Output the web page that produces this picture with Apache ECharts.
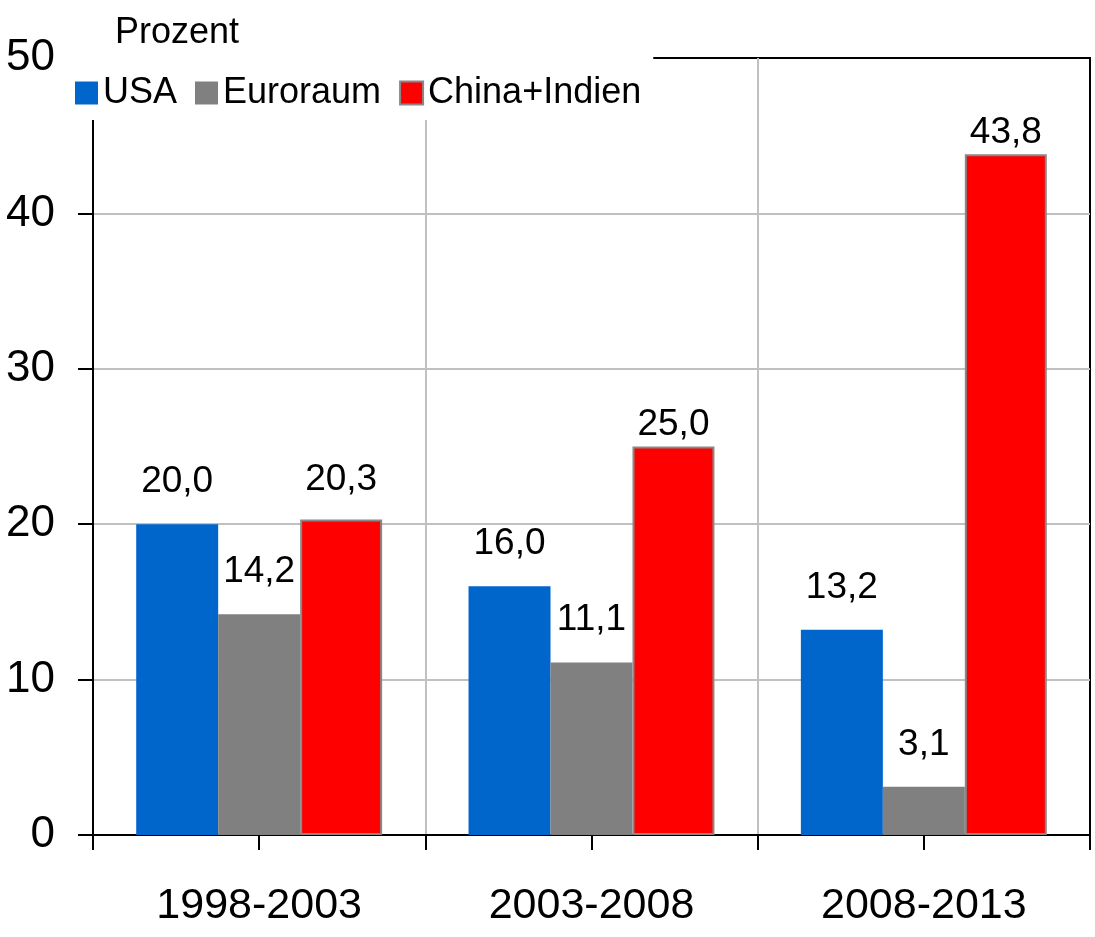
<!DOCTYPE html>
<html>
<head>
<meta charset="utf-8">
<script src="https://cdn.jsdelivr.net/npm/echarts@6/dist/echarts.min.js"></script>
<style>
  html, body { margin: 0; padding: 0; background: #fff; }
  #chart { width: 1095px; height: 937px; }
</style>
</head>
<body>
<div id="chart"></div>
<script>
// Zeiträume und Wachstumsraten (Prozent)
const periods = ['1998-2003', '2003-2008', '2008-2013'];
const usa = [20.0, 16.0, 13.2];
const euroraum = [14.2, 11.1, 3.1];
const chinaIndien = [20.3, 25.0, 43.8];
const yTicks = [0, 10, 20, 30, 40, 50];

const FONT = '"Liberation Sans", Arial, sans-serif';
const fmt = v => v.toFixed(1).replace('.', ',');

const chart = echarts.init(document.getElementById('chart'), null, { renderer: 'canvas' });

function labelStyle(distance) {
  return {
    show: true,
    position: 'top',
    distance: distance,
    color: '#000',
    fontFamily: FONT,
    fontSize: 37,
    formatter: p => fmt(p.value)
  };
}

// Labels of the two tallest red bars sit directly on the bar
const redData = chinaIndien.map((v, i) => (i === 0 ? v : { value: v, label: labelStyle(3) }));

const option = {
  animation: false,
  backgroundColor: '#fff',
  title: {
    text: 'Prozent',
    left: 110,
    top: 10,
    textStyle: { fontFamily: FONT, fontSize: 36, fontWeight: 'normal', color: '#000' }
  },
  legend: {
    left: 60,
    top: 52,
    padding: [23, 12, 9, 15],
    backgroundColor: '#fff',
    itemWidth: 23,
    itemHeight: 23,
    itemGap: 18,
    icon: 'rect',
    textStyle: { fontFamily: FONT, fontSize: 36, color: '#000' },
    data: ['USA', 'Euroraum', 'China+Indien']
  },
  grid: {
    left: 93,
    right: 5,
    top: 58,
    bottom: 102,
    outerBoundsMode: 'none',
    containLabel: false,
    show: true,
    borderColor: '#000',
    borderWidth: 2
  },
  xAxis: [
    {
      type: 'category',
      data: periods,
      boundaryGap: true,
      axisLine: { show: true, lineStyle: { color: '#000', width: 2 } },
      axisTick: { show: true, inside: false, length: 15, alignWithLabel: false, lineStyle: { color: '#000', width: 2 } },
      axisLabel: { fontFamily: FONT, fontSize: 43, color: '#000', margin: 50 },
      splitLine: { show: true, showMinLine: false, showMaxLine: false, lineStyle: { color: '#c0c0c0', width: 2 } }
    },
    {
      // tick marks at the middle of each period
      type: 'category',
      data: periods,
      position: 'bottom',
      boundaryGap: true,
      axisLine: { show: false },
      axisTick: { show: true, inside: false, length: 15, alignWithLabel: true, lineStyle: { color: '#000', width: 2 } },
      axisLabel: { show: false },
      splitLine: { show: false }
    }
  ],
  yAxis: {
    type: 'value',
    min: yTicks[0],
    max: yTicks[yTicks.length - 1],
    interval: 10,
    axisLine: { show: true, lineStyle: { color: '#000', width: 2 } },
    axisTick: { show: true, inside: false, length: 15, lineStyle: { color: '#000', width: 2 } },
    axisLabel: { fontFamily: FONT, fontSize: 44, color: '#000', margin: 38 },
    splitLine: { show: true, showMinLine: false, showMaxLine: false, lineStyle: { color: '#c0c0c0', width: 2 } }
  },
  series: [
    {
      name: 'USA',
      type: 'bar',
      data: usa,
      barGap: '0%',
      barCategoryGap: '26%',
      itemStyle: { color: '#0066CC' },
      label: labelStyle(24)
    },
    {
      name: 'Euroraum',
      type: 'bar',
      data: euroraum,
      itemStyle: { color: '#808080' },
      label: labelStyle(24)
    },
    {
      name: 'China+Indien',
      type: 'bar',
      data: redData,
      itemStyle: { color: '#FF0000', borderColor: '#888888', borderWidth: 2 },
      label: labelStyle(21)
    }
  ]
};

chart.setOption(option);
</script>
</body>
</html>
